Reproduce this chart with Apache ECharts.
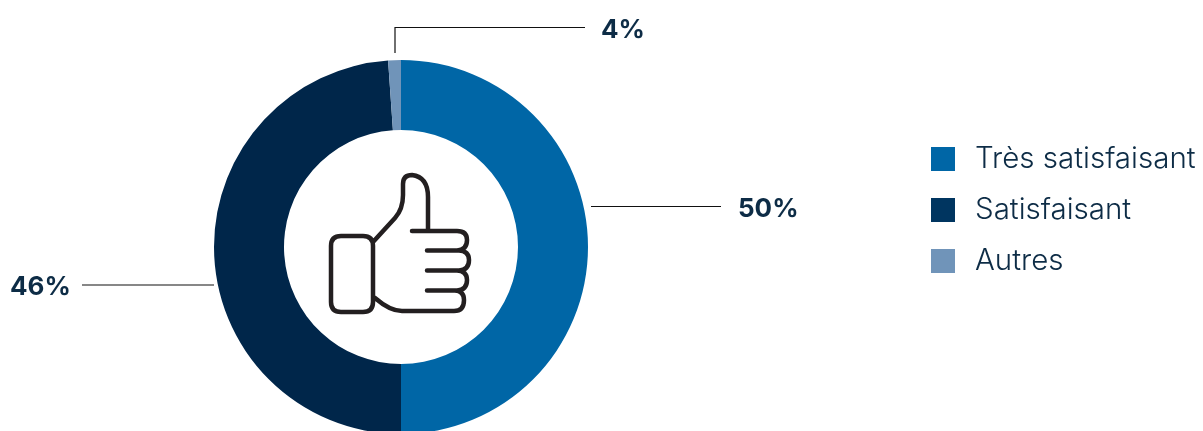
<!DOCTYPE html>
<html><head><meta charset="utf-8">
<style>html,body{margin:0;padding:0;background:#fff;overflow:hidden}#c{width:1203px;height:431px}</style>
<script src="https://cdn.jsdelivr.net/npm/echarts@6/dist/echarts.min.js"></script>
</head><body><div id="c"></div>
<script>
const categories = ['Très satisfaisant', 'Satisfaisant', 'Autres'];
// Printed percentages
const printedLabels = ['50%', '46%', '4%'];
// Slice sizes as drawn in the picture (the "Autres" slice spans about 4 degrees)
const drawnValues = [50, 48.9, 1.1];
const sliceColors = ['#0066a6', '#00264a', '#7094b9'];
const legendColors = ['#0066a6', '#003560', '#7094b9'];
const thumbPath = 'M373 242 L395 218 Q403 209 403 195 L403 184 Q403 175 412 175 Q428 177 428 197 L428 231 M412 231 L457 231 Q467 231 467 240 Q467 250 457 250.5 L427 250.5 M457 250.5 L459 250.5 Q469 251 469 260 Q469 270 459 270.5 L427 270.5 M457 270.5 Q467 271 467 280 Q467 290 457 290.5 L427 290.5 M455 290.5 Q464 291 464 300 Q464 311 454 311 L402 311 Q390 311 375 298 M341 236 L363 236 Q373 236 373 246 L373 302 Q373 312 363 312 L341 312 Q331 312 331 302 L331 246 Q331 236 341 236 Z';
const labelPlacement = [
  {x: 738, y: 209.5, line: [[591, 206.5], [656, 206.5], [721, 206.5]]},
  {x: 10, y: 287.5, line: [[214, 285], [148, 285], [82, 285]]},
  {x: 601, y: 30.5, line: [[395, 53], [395, 27.5], [585, 27.5]]}
];
const chart = echarts.init(document.getElementById('c'), null, {renderer: 'canvas'});
chart.setOption({
  animation: false,
  backgroundColor: '#fff',
  legend: {
    orient: 'vertical', left: 931, top: 144, padding: 0, itemWidth: 24, itemHeight: 24, itemGap: 21,
    icon: 'rect', selectedMode: false,
    data: categories.map((name, i) => ({name, itemStyle: {color: legendColors[i]}})),
    textStyle: {fontFamily: 'Inter', fontWeight: 300, fontSize: 29.5, lineHeight: 24, color: '#0d2c46', padding: [0, 0, 0, 15]}
  },
  series: [{
    type: 'pie', center: [401, 247], radius: [117, 187], startAngle: 90, clockwise: true,
    silent: true,
    data: categories.map((name, i) => ({name, value: drawnValues[i], itemStyle: {color: sliceColors[i]}})),
    label: {
      show: true, position: 'outside',
      formatter: p => printedLabels[p.dataIndex],
      fontFamily: 'Inter', fontWeight: 'bold', fontSize: 26, color: '#0d2c46'
    },
    labelLine: {show: true, lineStyle: {color: '#111', width: 1.2}},
    labelLayout: p => {
      const s = labelPlacement[p.dataIndex];
      return {x: s.x, y: s.y, align: 'left', verticalAlign: 'middle', labelLinePoints: s.line};
    }
  }, {
    type: 'custom', coordinateSystem: 'none', silent: true, z: 10, data: [0],
    renderItem: () => ({
      type: 'path',
      shape: {pathData: thumbPath, layout: 'cover', x: 331, y: 175, width: 138, height: 137},
      style: {fill: 'none', stroke: '#231f20', lineWidth: 4.5, lineCap: 'round', lineJoin: 'round'}
    })
  }]
});
</script></body></html>
